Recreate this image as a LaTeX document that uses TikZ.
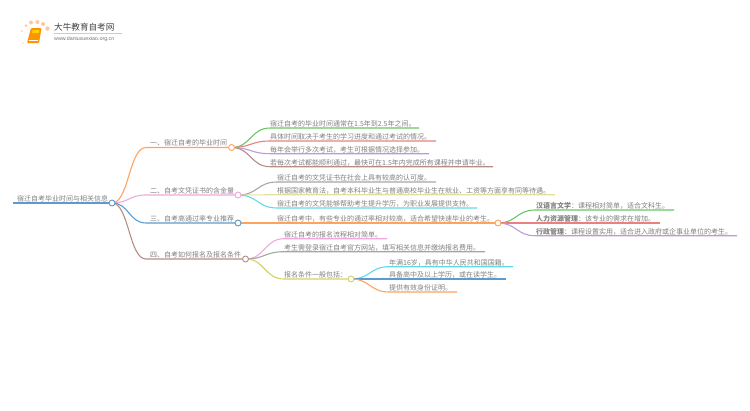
\documentclass[tikz,border=0pt]{standalone}
\usepackage{fontspec}
\setmainfont{Noto Sans CJK SC}
\setsansfont{Liberation Sans}
\usetikzlibrary{calc}
\pgfdeclarelayer{wires}
\pgfsetlayers{wires,main}
\definecolor{cBlue}{HTML}{5B9BD0}
\definecolor{cOrange}{HTML}{FFA25C}
\definecolor{cPink}{HTML}{F0A8DC}
\definecolor{cBrown}{HTML}{B58E84}
\definecolor{cGreen}{HTML}{6CC562}
\definecolor{cRed}{HTML}{EA8080}
\definecolor{cPurple}{HTML}{BC9ADC}
\definecolor{cGray}{HTML}{A6A6A6}
\definecolor{cYellow}{HTML}{E2E09A}
\definecolor{cCyan}{HTML}{62D8E6}
\definecolor{cOlive}{HTML}{D2D266}
\definecolor{cText}{HTML}{808080}
\tikzset{
  x=1pt,y=-1pt,
  lbl/.style={anchor=base west,inner sep=0pt,yshift=-0.8pt,text=cText,font=\fontsize{7}{8}\selectfont},
  hub/.style={circle,draw=#1,fill=white,line width=0.9pt,inner sep=0pt,minimum size=6pt},
  wire/.style={line width=1.1pt,#1},
  dot/.style={circle,fill=#1,inner sep=0pt},
}
\begin{document}
\begin{tikzpicture}
\useasboundingbox (0,0) rectangle (750,410);
% logo
\node[dot=cOrange!55,minimum size=2pt,opacity=.6] (d1) at (23,43) {};
\node[dot=cOrange!55,minimum size=2.5pt,opacity=.7] (d2) at (22,31) {};
\node[dot=cOrange!60,minimum size=3pt] (d3) at (26,25.5) {};
\node[dot=cOrange!60,minimum size=4pt] (d4) at (31,22.5) {};
\node[dot=cOrange!60,minimum size=4pt] (d5) at (37.5,22) {};
\node[dot=cOrange!60,minimum size=4pt] (d6) at (43,24) {};
\node[dot=cOrange!60,minimum size=4.5pt] (d7) at (47.5,28.5) {};
\fill[rounded corners=1pt,fill=orange!85!yellow] (31,28) -- (41.5,28) -- (39,43) -- (27,43) -- cycle;
\fill[fill=yellow!70!orange] (32.5,30) -- (39.5,30) -- (38.5,33) -- (32,33) -- cycle;
\draw[white,line width=.5pt] (28.5,40.5) -- (38,40.5);
\node[anchor=base west,inner sep=0pt,text=black!75,font=\fontsize{8.6}{10}\selectfont] (brand) at (54,30.5) {大牛教育自考网};
\coordinate (ruleA) at (54,33);
\coordinate (ruleB) at (122,33);
\draw[black!20,line width=.5pt] (ruleA) -- (ruleB);
\node[anchor=base west,inner sep=0pt,text=black!55,font=\sffamily\fontsize{5.3}{6}\selectfont] (url) at (54,40.5) {www.daniuxuexiao.org.cn};
% hubs
\node[hub=cBlue] (root) at (112,203) {};
\node[hub=cOrange] (b1) at (231.5,147.5) {};
\node[hub=cPink] (b2) at (238,195) {};
\node[hub=cBlue] (b3) at (238,223) {};
\node[hub=cBrown] (b4) at (245.5,259) {};
\node[hub=cOrange] (c3) at (498,223) {};
\node[hub=cOlive] (c4) at (351,279) {};
% free ends
\foreach \n/\x/\y in {r0/13/203,
 s1/146/147.5,s2/146/195,s3/146/223,s4/146/259,
 a1/270/128,a1e/419/128,a2/270/141,a2e/436/141,a3/270/153.7,a3e/429/153.7,a4/270/166.7,a4e/493/166.7,
 f1/277/182,f1e/436/182,f2/277/194.7,f2e/555/194.7,f3/277/208,f3e/477/208,
 g1/277/223,
 h1/535/210,h1e/674/210,h2/535/223,h2e/660/223,h3/535/235.7,h3e/737/235.7,
 k1/284/238.7,k1e/387/238.7,k2/284/251.7,k2e/485/251.7,k3/284/279,
 m1/389/266.7,m1e/513/266.7,m2/389/279,m2e/506/279,m3/389/292,m3e/457/292}
 {\coordinate (\n) at (\x,\y);}
% connectors
\begin{pgfonlayer}{wires}
\draw[wire=cBlue] (r0) -- (root.center);
\foreach \c/\p/\s/\e in {cOrange/root/s1/b1,cPink/root/s2/b2,cBlue/root/s3/b3,cBrown/root/s4/b4,
  cGreen/b1/a1/a1e,cRed/b1/a2/a2e,cPurple/b1/a3/a3e,cBrown/b1/a4/a4e,
  cGray/b2/f1/f1e,cYellow/b2/f2/f2e,cCyan/b2/f3/f3e,
  cOrange/b3/g1/c3,
  cGreen/c3/h1/h1e,cRed/c3/h2/h2e,cPurple/c3/h3/h3e,
  cPink/b4/k1/k1e,cGray/b4/k2/k2e,cOlive/b4/k3/c4,
  cCyan/c4/m1/m1e,cBlue/c4/m2/m2e,cOrange/c4/m3/m3e}
 {\draw[wire=\c] (\p.center) .. controls ($(\p.center)!0.5!(\s |- \p.center)$) and ($(\s)!0.5!(\p.center |- \s)$) .. (\s) -- (\e.center);}
\end{pgfonlayer}
% labels
\node[lbl] (troot) at (17,200.5) {宿迁自考毕业时间与相关信息};
\node[lbl] (t1) at (150,145) {一、宿迁自考的毕业时间};
\node[lbl] (t2) at (150,192.3) {二、自考文凭证书的含金量};
\node[lbl] (t3) at (150,220.5) {三、自考高通过率专业推荐};
\node[lbl] (t4) at (150,256.5) {四、自考如何报名及报名条件};
\node[lbl] (ta1) at (270,125.5) {宿迁自考的毕业时间通常在1.5年到2.5年之间。};
\node[lbl] (ta2) at (270,138.5) {具体时间取决于考生的学习进度和通过考试的情况。};
\node[lbl] (ta3) at (270,151.2) {每年会举行多次考试，考生可根据情况选择参加。};
\node[lbl] (ta4) at (270,164.2) {若每次考试都能顺利通过，最快可在1.5年内完成所有课程并申请毕业。};
\node[lbl] (tf1) at (277,179.5) {宿迁自考的文凭证书在社会上具有较高的认可度。};
\node[lbl] (tf2) at (277,192.2) {根据国家教育法，自考本科毕业生与普通高校毕业生在就业、工资等方面享有同等待遇。};
\node[lbl] (tf3) at (277,205.5) {宿迁自考的文凭能够帮助考生提升学历，为职业发展提供支持。};
\node[lbl] (tg1) at (277,220.5) {宿迁自考中，有些专业的通过率相对较高，适合希望快速毕业的考生。};
\node[lbl] (th1) at (536,207.5) {\textbf{汉语言文学}：课程相对简单，适合文科生。};
\node[lbl] (th2) at (536,220.5) {\textbf{人力资源管理}：该专业的需求在增加。};
\node[lbl] (th3) at (536,233.2) {\textbf{行政管理}：课程设置实用，适合进入政府或企事业单位的考生。};
\node[lbl] (tk1) at (284,236.2) {宿迁自考的报名流程相对简单。};
\node[lbl] (tk2) at (284,249.2) {考生需登录宿迁自考官方网站，填写相关信息并缴纳报名费用。};
\node[lbl] (tk3) at (284,276.5) {报名条件一般包括：};
\node[lbl] (tm1) at (389,264.2) {年满16岁，具有中华人民共和国国籍。};
\node[lbl] (tm2) at (389,276.5) {具备高中及以上学历，或在读学生。};
\node[lbl] (tm3) at (389,289.5) {提供有效身份证明。};
\end{tikzpicture}
\end{document}
